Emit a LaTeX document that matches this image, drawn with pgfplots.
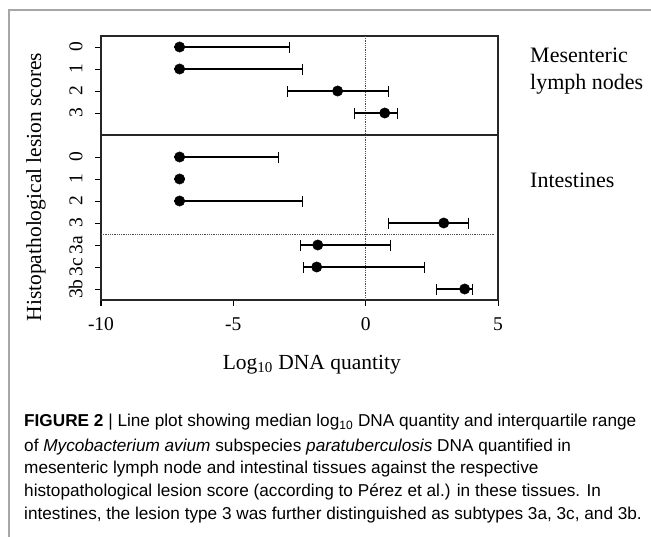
\documentclass[border=0pt]{standalone}
\usepackage{fontspec}
\setmainfont{Liberation Serif}
\newfontfamily\capfont{Liberation Sans}
\usepackage{pgfplots}
\usepackage{pgfplotstable}
\pgfplotsset{compat=1.18}

% median and interquartile range of log10 DNA quantity
\pgfplotstableread{
pos med lo hi
0 -7.03 -7.03 -2.87
1 -7.03 -7.03 -2.38
2 -1.06 -2.95 0.87
3 0.72 -0.42 1.20
}\mlndata
\pgfplotstableread{
pos med lo hi
5 -7.03 -7.03 -3.29
6 -7.03 -7.03 -7.03
7 -7.03 -7.03 -2.38
8 2.95 0.87 3.90
9 -1.81 -2.46 0.94
10 -1.85 -2.34 2.23
11 3.74 2.68 4.04
}\intdata

\begin{document}
\begin{tikzpicture}
\path[use as bounding box] (0pt,0pt) rectangle (651pt,-537pt);
\draw[gray!70, line width=1.2pt] (9pt,-537pt) -- (9pt,-10pt) -- (651pt,-10pt);
\begin{axis}[
    at={(101pt,-300pt)}, anchor=south west,
    scale only axis, width=397pt, height=264pt,
    xmin=-10, xmax=5, ymin=-0.5, ymax=11.5, y dir=reverse,
    xtick={-10,-5,0,5}, xticklabels={-10,-5,0,5},
    ytick={0,1,2,3,5,6,7,8,9,10,11},
    yticklabels={0,1,2,3,0,1,2,3,3a,3c,3b},
    xtick pos=bottom, ytick pos=left,
    tick align=outside, major tick length=6pt,
    tick style={black, line width=1pt},
    axis line style={black!85, line width=1.3pt},
    xticklabel style={font=\fontsize{19.5}{22}\selectfont},
    yticklabel style={font=\fontsize{19.5}{22}\selectfont, rotate=90, anchor=south},
    xticklabel shift=8pt, yticklabel shift=9pt,
    xlabel={Log\textsubscript{10} DNA quantity},
    ylabel={Histopathological lesion scores},
    label style={font=\fontsize{21.5}{25}\selectfont},
    xlabel style={at={(axis description cs:0.531,-0.245)}, anchor=center},
    ylabel style={at={(axis description cs:-0.164,0.428)}, anchor=center},
    clip=false,
    every axis plot/.append style={black},
]
\addplot[densely dotted, line width=0.8pt, black!70] coordinates {(0,-0.5) (0,11.5)};
\addplot[densely dotted, line width=0.8pt, black!70] coordinates {(-10,8.5) (4.87,8.5)};
\addplot[black!85, line width=1.3pt] coordinates {(-10,4) (5,4)};
\addplot[only marks, mark=*, mark size=5.2pt,
    error bars/.cd, x dir=both, x explicit,
    error bar style={line width=1.2pt},
    error mark options={rotate=90, mark size=5.5pt, line width=1.2pt}]
  table[x=med, y=pos,
    x error plus expr=\thisrow{hi}-\thisrow{med},
    x error minus expr=\thisrow{med}-\thisrow{lo}] {\mlndata};
\addplot[only marks, mark=*, mark size=5.2pt,
    error bars/.cd, x dir=both, x explicit,
    error bar style={line width=1.2pt},
    error mark options={rotate=90, mark size=5.5pt, line width=1.2pt}]
  table[x=med, y=pos,
    x error plus expr=\thisrow{hi}-\thisrow{med},
    x error minus expr=\thisrow{med}-\thisrow{lo}] {\intdata};
\end{axis}
\begin{scope}[font=\fontsize{22}{25}\selectfont]
\node[anchor=base west, inner sep=0pt] at (530pt,-63pt) {Mesenteric};
\node[anchor=base west, inner sep=0pt] at (530pt,-90pt) {lymph nodes};
\node[anchor=base west, inner sep=0pt] at (530pt,-188pt) {Intestines};
\end{scope}
\begin{scope}[font=\capfont\fontsize{17.2}{20}\selectfont]
\node[anchor=base west, inner sep=0pt] at (24pt,-427pt) {\textbf{FIGURE 2} | Line plot showing median log\textsubscript{10} DNA quantity and interquartile range};
\node[anchor=base west, inner sep=0pt] at (24pt,-451pt) {of \textit{Mycobacterium avium} subspecies \textit{paratuberculosis} DNA quantified in};
\node[anchor=base west, inner sep=0pt] at (24pt,-473pt) {mesenteric lymph node and intestinal tissues against the respective};
\node[anchor=base west, inner sep=0pt] at (24pt,-496pt) {histopathological lesion score (according to Pérez et al.) in these tissues. In};
\node[anchor=base west, inner sep=0pt] at (24pt,-519pt) {intestines, the lesion type 3 was further distinguished as subtypes 3a, 3c, and 3b.};
\end{scope}
\end{tikzpicture}
\end{document}
